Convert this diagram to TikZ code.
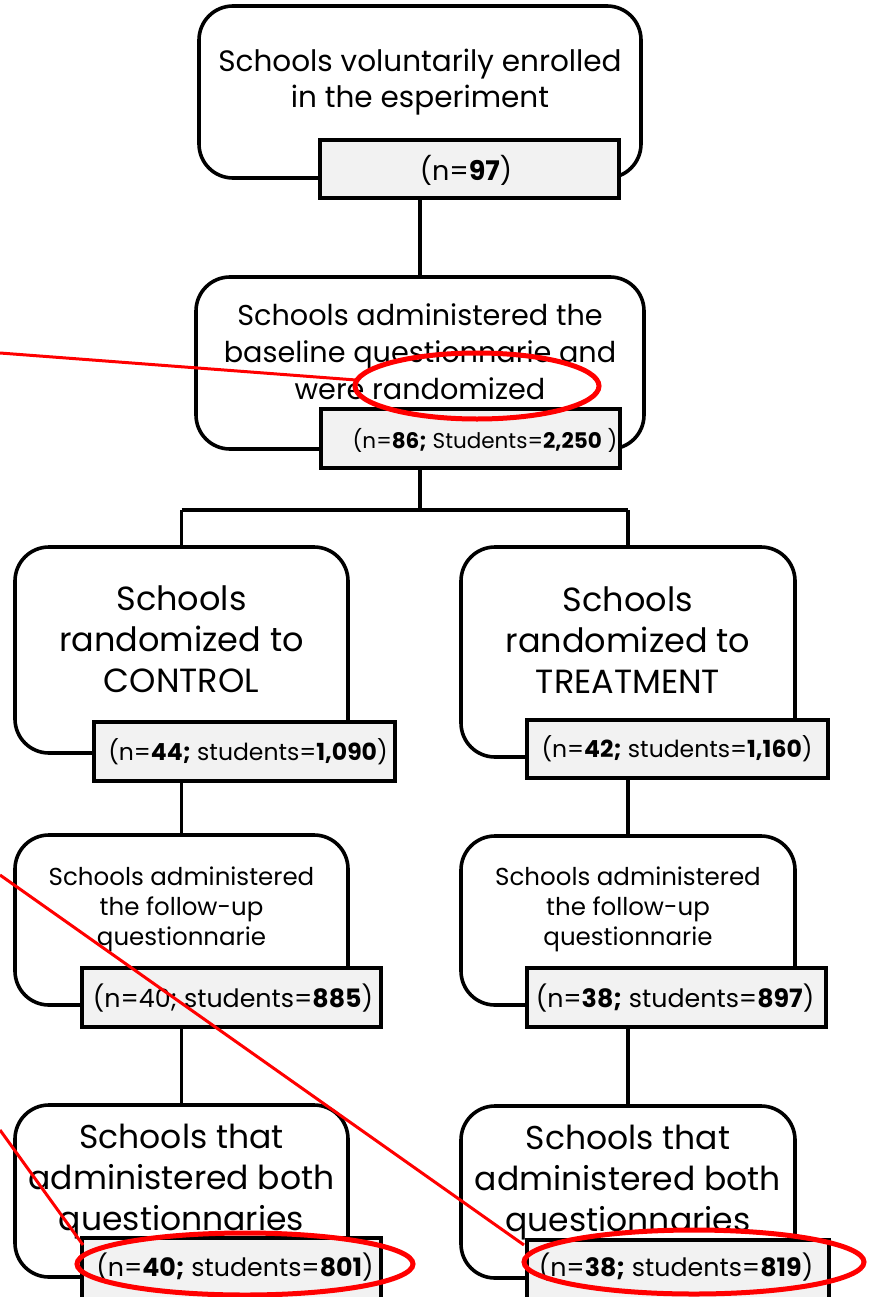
\documentclass[tikz,border=0pt]{standalone}
\usepackage{fontspec}
\setmainfont{Poppins}
\usetikzlibrary{shapes.geometric}
\definecolor{grayfill}{HTML}{F2F2F2}
\tikzset{
  rbox/.style={draw=black, line width=3.6pt, rounded corners=34pt, fill=white, inner sep=0pt},
  gbox/.style={draw=black, line width=3.6pt, fill=grayfill, inner sep=0pt},
  conn/.style={draw=black, line width=3.6pt},
  txt/.style={align=center, inner sep=0pt, text=black},
  redline/.style={draw=red, line width=3pt},
  redell/.style={draw=red, line width=5pt, ellipse, inner sep=0pt},
  fA/.style={font=\fontsize{29.5}{36}\selectfont},
  fB/.style={font=\fontsize{28.7}{37}\selectfont},
  fC/.style={font=\fontsize{33.5}{41}\selectfont},
  fD/.style={font=\fontsize{24.5}{30}\selectfont},
  fE/.style={font=\fontsize{33}{41}\selectfont},
  nA/.style={font=\fontsize{27}{30}\selectfont},
  nB/.style={font=\fontsize{21.5}{25}\selectfont},
  nC/.style={font=\fontsize{23.5}{27}\selectfont},
  nD/.style={font=\fontsize{25.3}{29}\selectfont},
}
\newcommand{\bx}[6]{% name, style, x1, y1, x2, y2
  \node[#2, minimum width={#5-#3}, minimum height={#6-#4}] (#1) at ({(#3+#5)/2},{(#4+#6)/2}) {};}
\begin{document}
\begin{tikzpicture}[x=1pt,y=-1pt]
\useasboundingbox (0,0) rectangle (877,1297);
\fill[white] (0,0) rectangle (877,1297);

\coordinate (jL) at (181.5,510);
\coordinate (jR) at (628,510);
\coordinate (jC) at (420,510);

% Box 1
\bx{b1}{rbox}{199}{6}{641}{178}
\bx{g1}{gbox}{320}{140}{619}{198}
\node[txt,fA] (t1) at (420,82) {Schools voluntarily enrolled\\in the esperiment};
\node[txt,nA] (n1) at (466,170) {(n=\textbf{97})};

% Box 2
\bx{b2}{rbox}{196}{277}{644}{449}
\bx{g2}{gbox}{321}{409}{620}{468}
\node[txt,fB] (t2) at (420,352) {Schools administered the\\baseline questionnarie and\\were randomized};
\node[txt,nB] (n2) at (485,440) {(n=\textbf{86;} Students=\textbf{2,250} )};

% Box 3
\bx{b3l}{rbox}{15}{547}{348}{753}
\bx{g3l}{gbox}{94}{722}{395}{781}
\node[txt,fC] (t3l) at (181.5,639) {Schools\\randomized to\\CONTROL};
\node[txt,nC] (n3l) at (248,752) {(n=\textbf{44;} students=\textbf{1,090})};

\bx{b3r}{rbox}{461}{547}{795}{757}
\bx{g3r}{gbox}{527}{720}{828}{778}
\node[txt,fC] (t3r) at (628,640) {Schools\\randomized to\\TREATMENT};
\node[txt,nC] (n3r) at (677,749) {(n=\textbf{42;} students=\textbf{1,160})};

% Box 4
\bx{b4l}{rbox}{15}{835}{348}{1005}
\bx{g4l}{gbox}{82}{968}{381}{1027}
\node[txt,fD] (t4l) at (181.5,909) {Schools administered\\the follow-up\\questionnarie};
\node[txt,nD] (n4l) at (233,998) {(n=40; students=\textbf{885})};

\bx{b4r}{rbox}{461}{836}{795}{1005}
\bx{g4r}{gbox}{527}{968}{826}{1027}
\node[txt,fD] (t4r) at (628,909) {Schools administered\\the follow-up\\questionnarie};
\node[txt,nD] (n4r) at (675,998) {(n=\textbf{38;} students=\textbf{897})};

% Box 5
\bx{b5l}{rbox}{15}{1105}{348}{1277}
\bx{g5l}{gbox}{82}{1238}{381}{1320}
\node[txt,fE] (t5l) at (181.5,1182) {Schools that\\administered both\\questionnaries};
\node[txt,nD] (n5l) at (235,1267) {(n=\textbf{40;} students=\textbf{801})};

\bx{b5r}{rbox}{461}{1106}{795}{1278}
\bx{g5r}{gbox}{527}{1240}{829}{1320}
\node[txt,fE] (t5r) at (628,1183) {Schools that\\administered both\\questionnaries};
\node[txt,nD] (n5r) at (676,1267) {(n=\textbf{38;} students=\textbf{819})};

% connectors
\draw[conn] (g1.south -| b1.south) -- (b2.north);
\draw[conn] (g2.south -| jC) -- (jC);
\draw[conn] (jL) -- (jR);
\draw[conn] (jL) -- (b3l.north);
\draw[conn] (jR) -- (b3r.north);
\draw[conn] (g3l.south -| b3l.north) -- (b4l.north);
\draw[conn] (g3r.south -| b3r.north) -- (b4r.north);
\draw[conn] (g4l.south -| b4l.north) -- (b5l.north);
\draw[conn] (g4r.south -| b4r.north) -- (b5r.north);

% red annotations
\node[redell, minimum width=244, minimum height=66] (e1) at (477,386) {};
\node[redell, minimum width=336, minimum height=62] (e2) at (245,1264) {};
\node[redell, minimum width=340, minimum height=64] (e3) at (694,1262) {};
\coordinate (r1) at (0,353);
\coordinate (r1e) at (356,380);
\coordinate (r2) at (0,875);
\coordinate (r2e) at (524,1245);
\coordinate (r3) at (0,1130);
\coordinate (r3e) at (83,1245);
\draw[redline] (r1) -- (r1e);
\draw[redline] (r2) -- (r2e);
\draw[redline] (r3) -- (r3e);
\end{tikzpicture}
\end{document}
